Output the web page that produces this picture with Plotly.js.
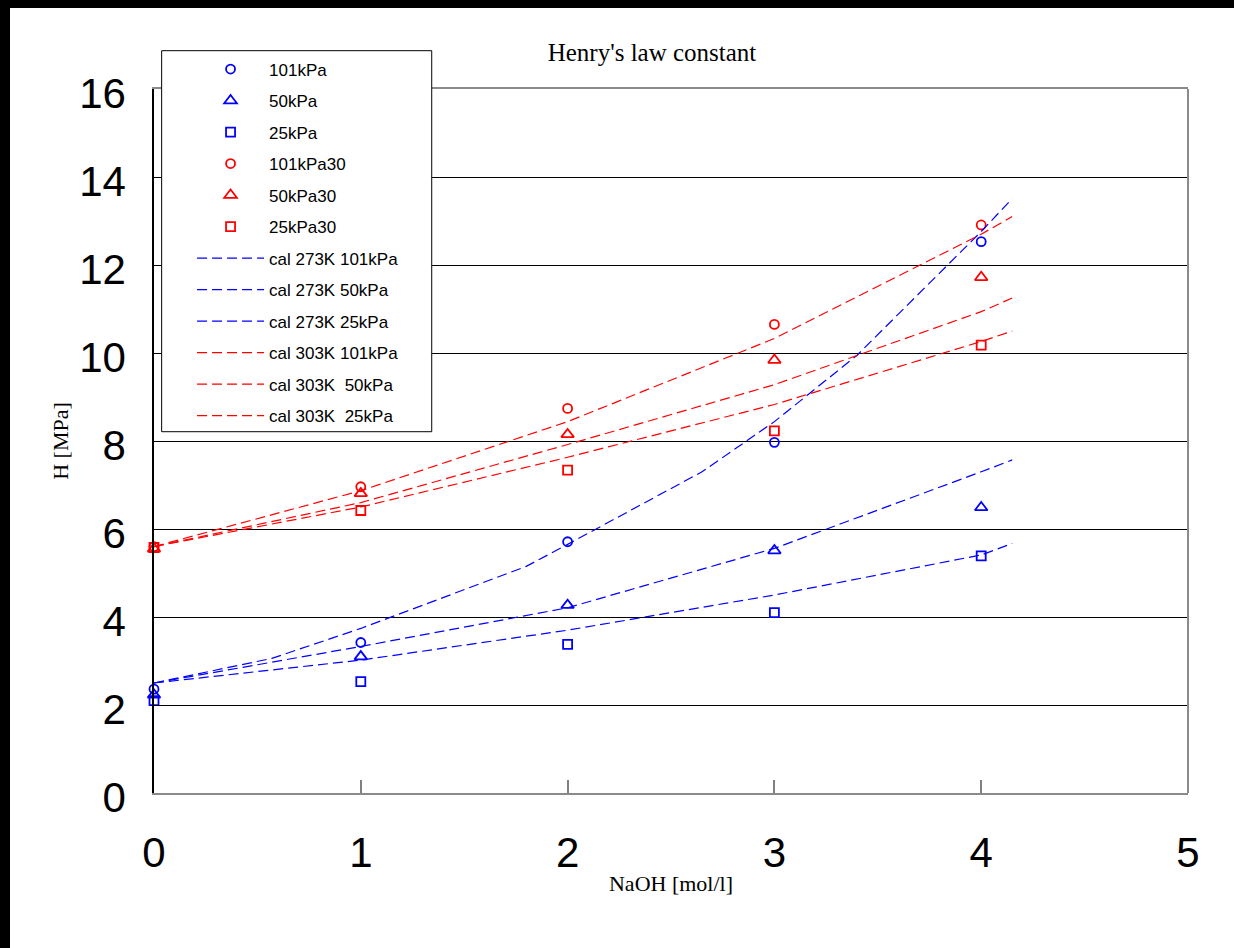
<!DOCTYPE html>
<html><head><meta charset="utf-8">
<script src="https://cdn.plot.ly/plotly-3.0.1.min.js"></script>
<style>
html,body{margin:0;padding:0;background:#fff;overflow:hidden;width:1234px;height:948px;}
#chart{position:absolute;left:10px;top:8px;width:1224px;height:940px;}
.bar{position:absolute;z-index:10;}
</style></head><body>
<div id="chart"></div>
<div class="bar" style="left:0;top:0;width:10px;height:948px;background:#000;"></div>
<div class="bar" style="left:0;top:0;width:1234px;height:8px;background:#000;"></div>
<div class="bar" style="left:1218px;top:8px;width:16px;height:940px;background:#fff;"></div>
<div class="bar" style="left:10px;top:932px;width:1224px;height:16px;background:#fff;"></div>
<script>
// measured points (NaOH mol/l vs H MPa)
const naoh = [0, 1, 2, 3, 4];
const h101_273 = [2.36, 3.42, 5.71, 7.97, 12.53];
const h50_273  = [2.23, 3.10, 4.27, 5.51, 6.49];
const h25_273  = [2.10, 2.53, 3.38, 4.10, 5.39];
const h101_303 = [5.60, 6.96, 8.74, 10.65, 12.91];
const h50_303  = [5.55, 6.81, 8.15, 9.84, 11.72];
const h25_303  = [5.58, 6.42, 7.34, 8.23, 10.18];

// calculated curves
const calX101_273 = [0, 0.57, 1, 1.8, 2, 2.65, 3, 3.4, 4, 4.15];
const cal101_273  = [2.5, 3.06, 3.74, 5.15, 5.65, 7.3, 8.44, 9.95, 12.76, 13.51];
const calX = [0, 1, 2, 3, 4, 4.15];
const cal50_273  = [2.5, 3.33, 4.21, 5.56, 7.30, 7.57];
const cal25_273  = [2.5, 3.02, 3.70, 4.50, 5.41, 5.67];
const cal101_303 = [5.6, 6.87, 8.44, 10.33, 12.70, 13.10];
const cal50_303  = [5.6, 6.60, 7.92, 9.28, 10.94, 11.25];
const cal25_303  = [5.6, 6.50, 7.63, 8.83, 10.26, 10.50];

const names = ["101kPa","50kPa","25kPa","101kPa30","50kPa30","25kPa30",
  "cal 273K 101kPa","cal 273K 50kPa","cal 273K 25kPa","cal 303K 101kPa","cal 303K\u00A0 50kPa","cal 303K\u00A0 25kPa"];

const BLUE = "#0000ff", RED = "#ff0000";
const TICKFONT = "Liberation Sans, Arial, sans-serif";
function pts(y, name, sym, col, size, g){
  return {x: naoh, y: y, name: name, mode: "markers", type: "scatter", cliponaxis: false,
    legendgroup: g, marker: {symbol: sym, size: size, color: col, line: {color: col, width: 1.8}}};
}
function cal(x, y, name, col, g){
  return {x: x, y: y, name: name, mode: "lines", type: "scatter", legendgroup: g,
    line: {color: col, width: 1.2, dash: "10px,5px"}};
}
const data = [
  pts(h101_273, names[0], "circle-open", BLUE, 9, "g0"),
  pts(h50_273, names[1], "triangle-up-open", BLUE, 11, "g1"),
  pts(h25_273, names[2], "square-open", BLUE, 9, "g2"),
  pts(h101_303, names[3], "circle-open", RED, 9, "g3"),
  pts(h50_303, names[4], "triangle-up-open", RED, 11, "g4"),
  pts(h25_303, names[5], "square-open", RED, 9, "g5"),
  cal(calX101_273, cal101_273, names[6], BLUE, "g6"),
  cal(calX, cal50_273, names[7], BLUE, "g7"),
  cal(calX, cal25_273, names[8], BLUE, "g8"),
  cal(calX, cal101_303, names[9], RED, "g9"),
  cal(calX, cal50_303, names[10], RED, "g10"),
  cal(calX, cal25_303, names[11], RED, "g11")
];

const layout = {
  width: 1224, height: 940,
  margin: {l: 144, r: 46, t: 81, b: 155, pad: 0},
  paper_bgcolor: "#fff", plot_bgcolor: "#fff",
  showlegend: true,
  title: {text: "Henry's law constant", font: {family: "Liberation Serif", size: 25, color: "#000"},
    x: 0.5245, xref: "container", xanchor: "center", y: 0.9532, yref: "container", yanchor: "middle"},
  xaxis: {range: [0, 5], tickvals: [0,1,2,3,4,5], ticks: "inside", ticklen: 13, tickwidth: 1.5, tickcolor: "#808080",
    showline: true, linecolor: "#8a8a8a", linewidth: 2, mirror: true, showgrid: false, zeroline: false,
    tickfont: {family: TICKFONT, size: 42, color: "#000"}, ticklabelstandoff: 22,
    title: {text: "NaOH [mol/l]", font: {family: "Liberation Serif", size: 22, color: "#000"}, standoff: 0}},
  yaxis: {range: [0, 16], tickvals: [0,2,4,6,8,10,12,14,16], ticks: "inside", ticklen: 7, tickcolor: "#000",
    showline: true, linecolor: "#000", linewidth: 1.5, showgrid: true, gridcolor: "#000", gridwidth: 1, zeroline: false,
    tickfont: {family: TICKFONT, size: 42, color: "#000"}, ticklabelstandoff: 18, ticklabelshift: 4,
    title: {text: "H [MPa]", font: {family: "Liberation Serif", size: 22, color: "#000"}, standoff: 4}},
  shapes: [
    {type: "line", xref: "paper", yref: "paper", x0: 1, x1: 1, y0: 0, y1: 1, line: {color: "#8a8a8a", width: 2}, layer: "above"},
    {type: "rect", xref: "paper", yref: "paper", x0: 0.0074, x1: 0.2686, y0: 0.5132, y1: 1.0544,
      fillcolor: "#fff", line: {color: "#000", width: 1}, layer: "above"}
  ],
  legend: {x: 0.0368, y: 1.0533, xanchor: "left", yanchor: "top", bgcolor: "rgba(0,0,0,0)", borderwidth: 0,
    itemwidth: 67, tracegroupgap: 6.4, traceorder: "grouped",
    font: {family: "Liberation Sans", size: 17, color: "#000"}}
};
Plotly.newPlot("chart", data, layout, {displayModeBar: false});
</script></body></html>
